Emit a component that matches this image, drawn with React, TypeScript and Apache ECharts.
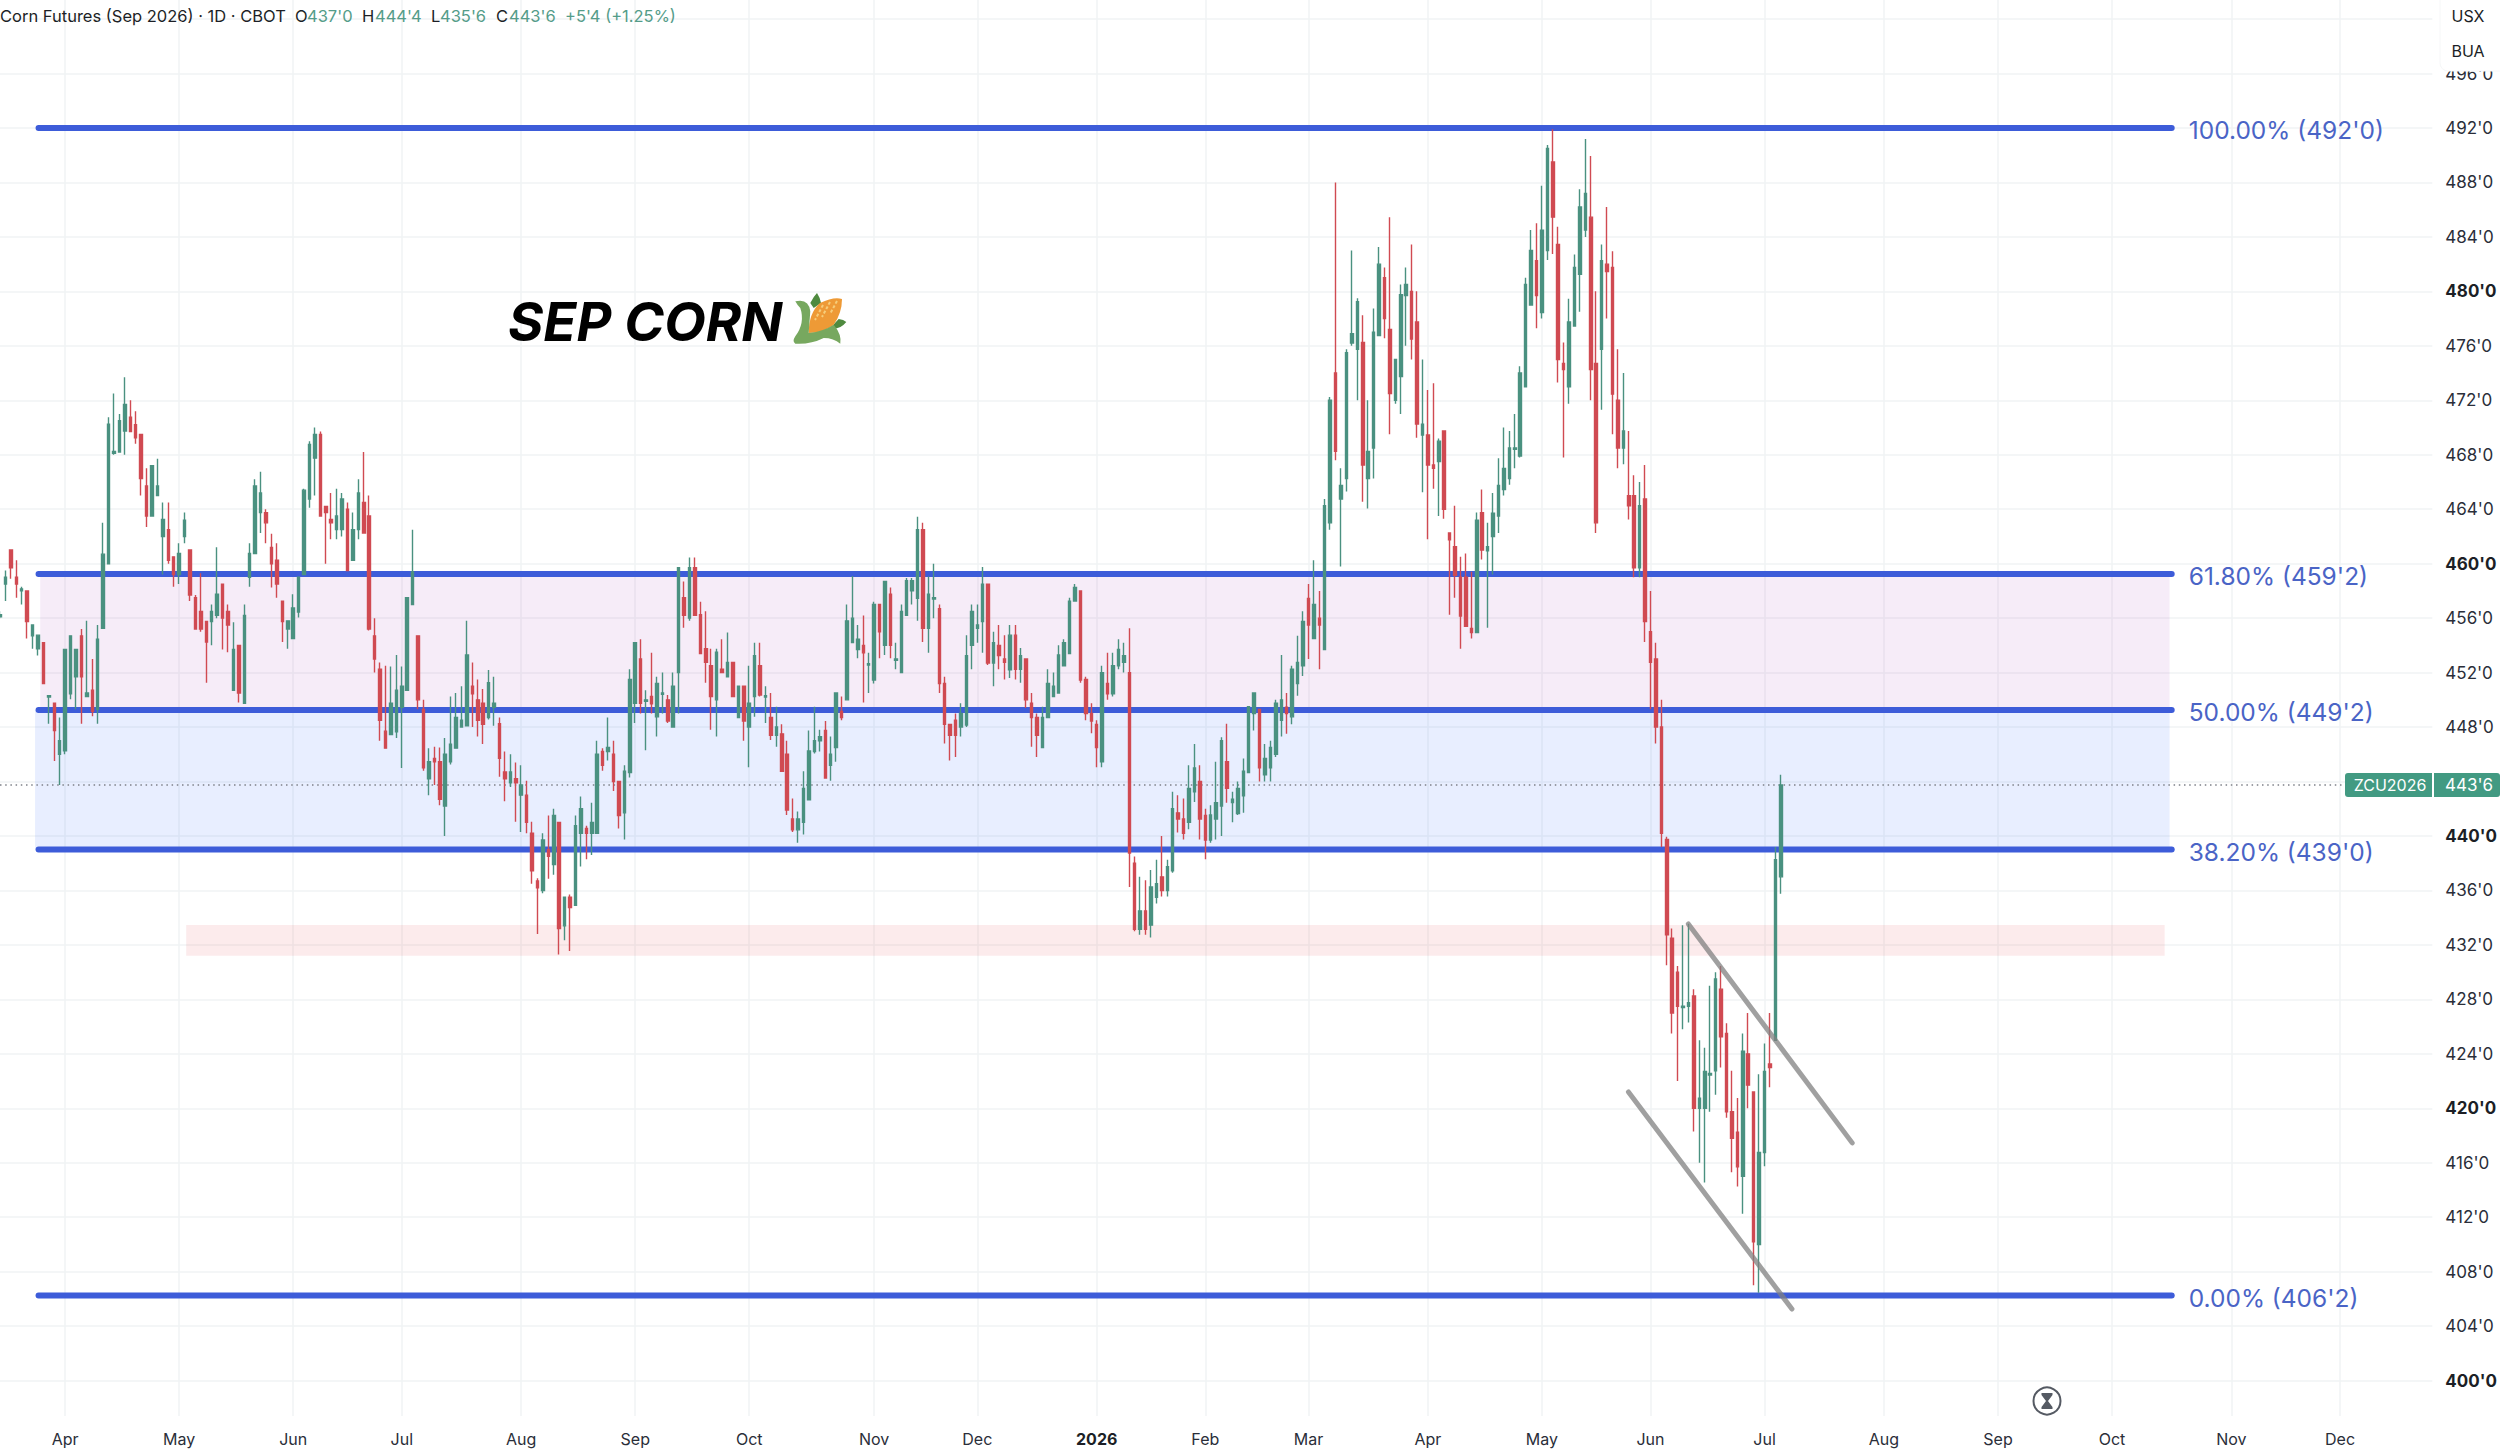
import React, { useEffect, useRef } from "react";
import * as echarts from "echarts";

// Each bar: [open, high, low, close], one row per session.
const barsSpring2025 = [
  [456.1,456.5,456,456.25],[458.5,459.5,457.25,459],[461,461,458.9,459.7],[459,460.25,457.5,458.5],[458,458.3,457,458.15],
  [458,458,454.5,455.75],[454.7,455.5,453.75,455.5],[453.75,454.75,453.25,454.75],[454.2,454.2,451.2,451.2],[450.2,450.3,448.25,450.3],
  [449.75,449.75,445.5,447.75],[446,448.7,443.75,447],[446.25,453.7,446,453.7],[450.45,454.7,450.05,454.7],[451.7,453.7,449.3,453.7],
  [454.7,455.2,448.25,451.7],[450.25,455.8,450.2,450.5],[450.7,453,448.8,449.15],[449.3,455.5,448.25,454.45],[455.25,463,455.25,460.7],
  [460,470.75,460,470.25],[468.1,472.5,468,468.25],[468.2,471,468.2,470.5],[469.75,473.7,468,471.7],[470.75,472,469.7,469.7],
  [470.2,471.2,468.8,469.25],[469.5,469.5,465,466.25],[465.7,467,462.7,463.5],[463.5,467.2,463.5,467.2],[465,467.7,465,465.7],
  [462,464.5,459.2,463.25],[462.5,464.5,460,460.25],[460.5,460.5,458.3,459.2],[459.2,461.5,458.5,460.75],[462,463.75,461.5,463.2],
  [461,461,457.25,457.7],[457.5,457.7,455.2,455.2],[456.5,459.3,455,455.2],[455.75,455.75,451.25,454.25],[455.75,457,454,456.5],
  [456.2,461.2,456,457.75],[458.5,458.5,453.7,456],[456.5,457,453.5,455.5],[450.7,455.7,450.7,453.7],[454,454,449.8,450.5],
  [449.75,457,449.75,456.2],[459,461.5,458.3,460.75],[460.75,466.2,460.75,465.7],[463.75,466.75,462.25,465.2],[463.75,464,461.5,463],
  [461.2,462.2,458.25,460],[460.25,461.5,457.5,458.5],[457.25,457.25,454.25,455.75],[455.2,455.8,453.75,455.8],[454.5,457.75,454.5,456.75],
];
const barsSummer2025 = [
  [456.45,459,456.05,459],[459.2,465.5,459.2,465.4],[464.75,469,464.1,468.75],[467.75,470,465,469.5],[469.5,469.7,463.5,463.5],
  [464.2,464.2,460,463.75],[463.25,465.2,461.8,463],[462.5,465.5,461.8,463.5],[462.5,465.2,462,464.75],[464,464.5,459.5,459.5],
  [460.25,463.75,460.25,462.5],[462.5,466.2,461.8,465.2],[464.5,468.2,462.25,462.25],[463.5,465,455.1,455.2],[454.7,456,452,453],
  [452.25,452.75,447,448.5],[447.7,452.5,446.45,446.45],[447.45,452.45,447.45,449.75],[447.65,453.3,447.2,450.7],[449.45,452.45,445,451],
  [450.7,457.5,450.7,457.5],[457,462.5,457,459.4],[454.7,454.7,449.3,450],[449.3,450,444.8,445],[444.2,446.45,443,445.45],
  [445.7,446.55,443.75,445.45],[445.45,446.5,442.25,442.7],[442.2,447.2,440,446],[445.45,450.25,445.25,446.75],[446.45,450.5,446.45,448.7],
  [448,451,448,448.5],[448.1,455.8,448.1,453.3],[451,452.75,448,450.45],[450,451.5,447.3,448.5],[449.75,450.8,446.75,448.2],
  [448.7,452.2,448.55,451.25],[449.45,451.7,448.1,449.75],[448.25,448.7,444.35,445.7],[444.7,446.2,442.55,444.2],[443.9,446,443.6,444.7],
  [444.2,445.4,441.05,443.9],[443,445.2,440.3,443.75],[443,444.05,440.2,441],[440.2,441.05,436.5,437.45],[436.7,436.9,432.8,436.2],
];
const barsAutumn2025 = [
  [436,440.2,435.8,439.7],[439,441.5,436.85,438.5],[437.9,442,437.15,441.5],[441,441,431.3,433.2],[433.4,435.5,432.35,435.5],
  [435.5,435.7,431.55,434.75],[434.9,441.5,434.9,440.75],[440.2,442.9,437.75,442],[440.55,440.75,438.3,440.2],[440.2,442.45,438.6,441],
  [440.2,447,440.2,446],[446.2,446.45,444.8,445.2],[446.2,448.7,445.55,446.5],[446,447,443.3,444],[444,444,440.55,441.5],
  [441.7,445.2,439.75,444.75],[444.65,452.25,444.3,451.5],[449.75,454.2,448.3,454.2],[453,454.45,449,449.75],[449.9,450.7,446.3,450],
  [450.25,453.45,449,449.7],[448.75,451.7,447.3,451.2],[450.4,452,449,450.5],[450,450.35,448.3,448.45],[448,452,448,451],
  [452,459.7,449,459.7],[457.5,458.7,455.3,456.2],[456,460.45,455.8,459.7],[459.7,460.45,456.2,456.2],[456.25,457.2,453.4,453.4],
  [453.75,456.5,451.25,452.75],[452.5,453.75,447.8,450.25],[450,453.75,447.3,453.5],[452.25,454.45,452,452],[451.7,454.95,451.7,452.75],
  [452.75,452.75,450.25,450.25],[448.7,451,448.7,451],[451,451,447,448.45],[448,452.5,445.05,449.75],[450.25,454.2,448.75,453.25],
  [452.5,454.2,450.25,450.35],[450.2,451,448.3,450.3],[448.7,450.5,447.05,447.4],[447.4,449.5,446.55,448],[447.5,448.2,444.75,444.75],
  [446,447,441.55,441.9],[441.25,442.75,440.3,440.45],[440.45,441.8,439.5,441.25],[441,444.75,440.1,443.5],[442.65,447.75,442.6,446.25],
  [446.2,449.5,446.05,447],[447,447.8,446.2,447.3],[447.75,448.45,444.25,444.25],[445.2,447.3,444.05,446],[446.5,450.5,445.45,450.5],
  [449.15,450.25,448.5,448.7],
];
const barsWinter2026 = [
  [450,457,450,455.8],[454.2,459.1,454.2,456],[453.7,455.5,453.05,454.45],[454,456.2,449.8,453.45],[452.55,453.45,450.5,452.65],
  [451.45,457.2,451.2,457],[457,457,453.05,455],[454,458.7,453.3,458.7],[457.75,458.25,453.05,454],[452.9,454.2,452.25,453],
  [452,457,452,456.5],[456.2,458.95,456.2,458.75],[458,458.95,457,458.75],[457.45,463.45,455.8,462.5],[462.5,463,454.25,455.25],
  [455.25,459.05,453.45,457.75],[457.4,460,456,457.5],[456.7,457,450.5,451.2],[451.2,451.7,446.8,448.2],[448.2,448.2,445.55,447.4],
  [448.5,449,445.8,447.4],[448,449.75,447.3,449],[448.15,454.75,448,453.25],[454,457,452.25,456.5],[455.25,457,454.2,455.5],
  [455.75,459.75,453.45,458.5],[458.5,458.5,452.55,452.7],[452.7,455,451,454.2],[454,455.5,452.25,453.25],[453,454.75,451.5,452.75],
  [452.2,455.5,451.6,454.75],[454.75,455.5,451.5,452.25],[452.25,453.8,451.25,453.25],[453,453,449.4,450],[449.75,450.5,446.55,448.7],
  [448.7,449,445.8,447.4],[446.5,449.5,446.5,448.7],[448.7,452.25,448.7,451.2],[450.25,452,450.25,451],[450.5,454,450.5,453.3],
  [452.5,454.45,452.5,454.2],[453.4,457.5,453.4,457.25],[457.25,458.5,457.25,458.25],[458,458,451.25,451.45],[451.5,451.7,448.5,449],
  [449,449.75,447.55,448.45],[448.2,448.5,445.05,446.5],[445.45,452.5,445.05,452],[451.2,453.45,450,450.45],[450.45,453.45,450.25,452.5],
  [452.5,454.45,452.25,453.7],[452.75,454.2,452,453.25],[452,455.25,436.25,438.75],[438,438.5,433,433.15],[433.15,437,432.75,434.5],
  [434.5,436.75,432.75,433.15],[433.45,437.5,432.55,436.25],[435.5,438.25,435.05,436.5],[437,440,435.55,436],[436,438.25,435.55,437.75],
  [437.45,443.25,437.3,442],[441.7,443,440.25,441.25],[441.25,442.75,439.75,440.2],[441,445.2,440.5,443.5],[443.25,446.75,442.5,445],
];
const barsFebApr2026 = [
  [444,445.2,439.75,441.25],[441.5,442,438.3,439.7],[439.7,442.25,439.5,441.55],[441.25,445.45,439.75,442.45],[442.2,447.25,440,447],
  [445.45,448.25,442.45,443.5],[442.45,443.25,441,442.7],[441.65,444,441.55,443.5],[442.95,445.7,441.7,444.75],[444.65,449.5,444.6,449.5],
  [449,450.5,447.75,450.5],[449.3,449.3,444,445],[444.5,446.75,444,445.7],[445,447,444,446.5],[446,450,445.8,449.75],
  [448.5,453.3,447.3,450],[449.45,450.5,447.5,449],[448.75,452.5,448.2,452.25],[451.2,454.7,450.3,452.75],[452.5,456.5,451.75,455.75],
  [457.45,458.5,453,455.5],[454.5,460.25,454.5,457],[456,458,452.25,455.5],[453.7,464.75,453.7,464.25],[463,472.25,462.5,472],
  [474,488,467.6,468.25],[464.75,467,459.8,465.75],[466.25,475.75,465.3,475.5],[476.2,483,476,476.9],[475.75,479.5,472,479.25],
  [476.25,478.25,464.55,467.25],[466.25,472,464.05,468.25],[468.5,478.75,466.25,477],[476.75,483.25,476.75,482],[481,481.75,476.55,478],
  [477.2,485.45,469.5,472.5],[472,475,471.75,475],[473.75,480.5,471,479.75],[479.7,481.75,476,480.5],[480,483.45,475,476.5],
  [477.75,480,469.25,470.25],[469.45,475,465.25,470.25],[469.45,472.75,461.8,467.25],[467.25,473.25,465.5,467],[467.5,469.2,463.5,469],
  [469.75,469.75,463.3,464],[462.25,462.25,456.25,461.75],[461.25,464.25,457.5,459.15],[459,460.5,453.75,456.15],[459,460.75,455.4,455.4],
  [455.25,459.4,454.5,454.95],[454.95,463.75,454.95,463.2],[463.75,465.45,460.3,461],[460.95,463,455.3,461.25],[462,465.2,459.2,463.7],
];
const barsMayJul2026 = [
  [463.5,467.75,462.25,465.75],[465.45,470,465,467],[466.25,469.75,465.8,468.5],[468.4,471,467,468.5],[467.9,474.5,467.8,474],
  [473,481,473,480.5],[479,484.5,479,483],[482.25,485,477.3,479.7],[478.45,487.75,478,484.5],[483,490.75,482.3,490.5],
  [489.5,491.9,482.75,485.45],[483.45,484.75,473.3,475],[474.7,476.25,467.8,474.25],[473,479.45,471.75,477.75],[477.45,482.7,477.45,481.75],
  [481.25,487.5,478.5,486.2],[484.5,491.2,484,487.2],[485.45,489.95,472,474.25],[474.7,480,462.25,463],[475.75,483.45,471.3,482.25],
  [482,486.2,478,481.45],[481.75,482.95,469.5,472.45],[472,475.75,467,468.5],[468.5,474,467.3,469.75],[465,469.75,463.25,464.25],
  [465,466.5,459,459.7],[459.7,466,459,464.25],[464.75,467.25,454.25,455.75],[455,458,449.3,452.75],[453,454.2,446.8,448],
  [448,450,439.2,440.2],[439.75,439.95,430.5,432.75],[432.5,433.2,425.5,427],[430,430.45,422,427.5],[427.4,433.45,425.8,427.5],
  [427.5,433.55,426.3,427.75],[428.25,428.75,418.3,420],[420,425,416,420.75],[420,424.45,414.55,422.7],[422.45,429,419.75,422.55],
  [422.75,430,421,429.5],[428.75,430.45,423,425.25],[425.5,426.25,419.3,419.75],[419.75,422.75,415.3,417.8],[418.25,420.75,414.25,415.7],
  [415,425.5,412.25,424.2],[424,427,420,421.7],[421.2,421.2,407,410.2],[410,422.5,406.45,416.75],[416.75,424.75,415.75,422.7],
  [423.25,427,421.55,423],[425,439.2,425,438.25],[437,444.5,435.75,443.75],
];

const bars = [...barsSpring2025, ...barsSummer2025, ...barsAutumn2025, ...barsWinter2026, ...barsFebApr2026, ...barsMayJul2026];

const SLOTS = 449;
const monthBars = [12, 33, 54, 74, 96, 117, 138, 161, 180, 202, 222, 241, 263, 284, 304, 325, 347, 368, 389, 411, 431];
const monthNames = ["Apr","May","Jun","Jul","Aug","Sep","Oct","Nov","Dec","2026","Feb","Mar","Apr","May","Jun","Jul","Aug","Sep","Oct","Nov","Dec"];

const priceTicks = [400,404,408,412,416,420,424,428,432,436,440,444,448,452,456,460,464,468,472,476,480,484,488,492,496,500];
const priceLabelTicks = [400,404,408,412,416,420,424,428,432,436,440,448,452,456,460,464,468,472,476,480,484,488,492,496];
const boldPrices = [400, 420, 440, 460, 480];

const fibPrices = [492, 459.25, 449.25, 439, 406.25];
const fibLabels = ["100.00% (492'0)", "61.80% (459'2)", "50.00% (449'2)", "38.20% (439'0)", "0.00% (406'2)"];
const fibSpan = [7.1, 400];
const lastPrice = 443.75;
const upperTrend = [[310.97, 433.54], [341.15, 417.46]];
const lowerTrend = [[299.94, 421.2], [330.05, 405.26]];
const supportZone = { from: 34.3, to: 398.7, top: 433.46, bottom: 431.2 };

const UP = "#4a9180";
const DOWN = "#d04a52";
const BLUE = "#3d5cd9";
const TEXT = "#1c1f26";
const GRID = "#f1f3f5";
const FONT = "Inter";
const VALUE_GREEN = "#549c89";

const headerParts = [
  { t: "Corn Futures (Sep 2026) · 1D · CBOT", x: 0, c: TEXT },
  { t: "O", x: 295, c: TEXT },
  { t: "437'0", x: 307, c: VALUE_GREEN },
  { t: "H", x: 362, c: TEXT },
  { t: "444'4", x: 375, c: VALUE_GREEN },
  { t: "L", x: 431, c: TEXT },
  { t: "435'6", x: 440, c: VALUE_GREEN },
  { t: "C", x: 496, c: TEXT },
  { t: "443'6", x: 509, c: VALUE_GREEN },
  { t: "+5'4 (+1.25%)", x: 565, c: VALUE_GREEN },
];

const cobPath = "M28 10 Q42 3.3 50 6 Q50 20 41.7 31.7 Q31.7 40 16.7 40 Q16.7 20 28 10 Z";
const huskPath = "M3.3 8.3 Q16.7 5 18.3 18.3 L16.7 40 Q31.7 38.3 41.7 31.7 Q50 41.7 48.3 50.7 Q41.7 45 31.7 45 Q18.3 51.7 3.3 50.7 Q0 48.3 3.3 43.3 Q13.3 30 8.3 15 Q5 11.7 3.3 8.3 Z";
const leafPath = "M18.3 10 Q21.7 3.3 25 0 Q28.3 5 29 10 L21.7 15 Z M38.3 35 L46.7 26 Q51.7 26.7 54.3 29 Q48.3 36.7 38.3 36 Z";
echarts.graphic.registerShape("corn-cob", (echarts.graphic as any).extendPath(cobPath, {}));
echarts.graphic.registerShape("corn-husk", (echarts.graphic as any).extendPath(huskPath, {}));
echarts.graphic.registerShape("corn-leaf", (echarts.graphic as any).extendPath(leafPath, {}));

export default function App() {
  const ref = useRef<HTMLDivElement>(null);
  useEffect(() => {
    document.body.style.margin = "0";
    document.body.style.overflow = "hidden";
    const chart = echarts.init(ref.current!, undefined, { renderer: "svg", width: 2500, height: 1456 });

    const monthAt: Record<number, string> = {};
    monthBars.forEach((b, i) => { monthAt[b] = monthNames[i]; });
    const categories = Array.from({ length: SLOTS }, (_, i) => String(i));
    const candleData = bars.map(([o, h, l, c]) => [o, c, l, h]);

    const yPx = 16;
    const header = headerParts.map((p) => ({
      type: "text", x: p.x, y: yPx, z: 100,
      style: { text: p.t, fill: p.c, fontFamily: FONT, fontSize: 16.5, textAlign: "left", textVerticalAlign: "middle" },
    }));

    const fibSeries = fibPrices.map((p, i) => ({
      type: "line", xAxisIndex: 1, yAxisIndex: 0, z: 2, silent: true, symbol: "none",
      lineStyle: { color: BLUE, width: 6, cap: "round" },
      endLabel: {
        show: true, distance: 17, offset: [0, 2], formatter: () => fibLabels[i],
        color: "#4a64c6", fontFamily: FONT, fontSize: 24.5,
      },
      data: [[fibSpan[0], p], [fibSpan[1], p]],
    }));

    const trend = (d: number[][]) => ({
      type: "line", xAxisIndex: 1, yAxisIndex: 0, z: 5, silent: true, symbol: "none",
      lineStyle: { color: "rgba(128,128,128,0.75)", width: 5, cap: "round" }, data: d,
    });

    chart.setOption({
      animation: false,
      backgroundColor: "#ffffff",
      grid: { left: -1.5, top: 0, width: 2434.5, height: 1416, containLabel: false },
      xAxis: [
        {
          type: "category", data: categories, boundaryGap: false,
          axisLine: { show: false }, axisTick: { show: false },
          axisLabel: {
            interval: (i: number) => monthAt[i] !== undefined,
            formatter: (_v: string, i: number) => (monthAt[i] === "2026" ? "{b|2026}" : monthAt[i] ?? ""),
            margin: 15, color: "#2a2e39", fontFamily: FONT, fontSize: 16,
            rich: { b: { fontWeight: 700, fontFamily: FONT, fontSize: 16, color: TEXT } },
          },
          splitLine: { show: true, interval: (i: number) => monthAt[i] !== undefined, lineStyle: { color: GRID, width: 1.5 } },
        },
        { type: "value", min: 0, max: SLOTS - 1, show: false, splitLine: { show: false } },
      ],
      yAxis: {
        type: "value", position: "right", min: 397.4, max: 501.4, scale: true,
        axisLine: { show: false },
        axisTick: { show: false, customValues: priceTicks },
        axisLabel: {
          customValues: priceLabelTicks, margin: 13, color: "#2a2e39", fontFamily: FONT, fontSize: 17,
          align: "left",
          formatter: (v: number) => (boldPrices.includes(Number(v)) ? `{b|${v}'0}` : `${v}'0`),
          rich: { b: { fontWeight: 700, fontFamily: FONT, fontSize: 17, color: TEXT } },
        },
        splitLine: { show: true, lineStyle: { color: GRID, width: 1.5 } },
      },
      series: [
        {
          type: "line", xAxisIndex: 1, yAxisIndex: 0, z: 1, silent: true, symbol: "none", data: [],
          markArea: {
            silent: true,
            data: [
              [{ coord: [7.4, fibPrices[1]], itemStyle: { color: "rgba(156,39,176,0.09)" } }, { coord: [399.6, fibPrices[2]] }],
              [{ coord: [6.46, fibPrices[2]], itemStyle: { color: "rgba(41,98,255,0.11)" } }, { coord: [399.6, fibPrices[3]] }],
              [{ coord: [supportZone.from, supportZone.top], itemStyle: { color: "rgba(225,60,70,0.1)" } }, { coord: [supportZone.to, supportZone.bottom] }],
            ],
          },
        },
        {
          type: "line", xAxisIndex: 1, yAxisIndex: 0, z: 1, silent: true, symbol: "none",
          lineStyle: { color: "#7d8088", width: 1.5, type: [1.5, 3.7] },
          data: [[0, lastPrice], [432.2, lastPrice]],
        },
        ...fibSeries,
        {
          type: "candlestick", xAxisIndex: 0, yAxisIndex: 0, z: 3, silent: true, barWidth: 3, data: candleData,
          itemStyle: { color: UP, color0: DOWN, borderColor: UP, borderColor0: DOWN, borderWidth: 1.4 },
        },
        trend(upperTrend),
        trend(lowerTrend),
      ],
      graphic: { elements: [
        ...header,
        { type: "rect", z: 100, shape: { x: 2440, y: -10, width: 70, height: 81, r: 8 }, style: { fill: "#ffffff", stroke: "#f6f7f8", lineWidth: 1 } },
        { type: "text", z: 101, x: 2468, y: 16, style: { text: "USX", fill: TEXT, fontFamily: FONT, fontSize: 16, textAlign: "center", textVerticalAlign: "middle" } },
        { type: "text", z: 101, x: 2468, y: 51, style: { text: "BUA", fill: TEXT, fontFamily: FONT, fontSize: 16, textAlign: "center", textVerticalAlign: "middle" } },
        { type: "rect", z: 100, shape: { x: 2345, y: 773, width: 87, height: 24, r: [3, 0, 0, 3] }, style: { fill: "#429a82" } },
        { type: "rect", z: 100, shape: { x: 2434, y: 773, width: 66, height: 24, r: [0, 3, 3, 0] }, style: { fill: "#429a82" } },
        { type: "text", z: 101, x: 2390, y: 785, style: { text: "ZCU2026", fill: "#ffffff", fontFamily: FONT, fontSize: 16, textAlign: "center", textVerticalAlign: "middle" } },
        { type: "text", z: 101, x: 2469, y: 785, style: { text: "443'6", fill: "#ffffff", fontFamily: FONT, fontSize: 17, textAlign: "center", textVerticalAlign: "middle" } },
        { type: "text", z: 100, x: 508, y: 321, style: { text: "SEP CORN", fill: "#000000", fontFamily: FONT, fontSize: 54, fontWeight: 700, fontStyle: "italic", textAlign: "left", textVerticalAlign: "middle" } },
        {
          type: "group", x: 792, y: 293, z: 100,
          children: [
            { type: "corn-leaf", z: 100, style: { fill: "#4f8a3f" } },
            { type: "corn-cob", z: 101, style: { fill: "#ee9a36" } },
            { type: "line", z: 102, shape: { x1: 31, y1: 12, x2: 23, y2: 27 }, style: { stroke: "#f6cd7a", lineWidth: 2, lineDash: [3, 2] } },
            { type: "line", z: 102, shape: { x1: 38, y1: 9, x2: 30, y2: 24 }, style: { stroke: "#f6cd7a", lineWidth: 2, lineDash: [3, 2] } },
            { type: "line", z: 102, shape: { x1: 45, y1: 8, x2: 38, y2: 21 }, style: { stroke: "#f6cd7a", lineWidth: 2, lineDash: [3, 2] } },
            { type: "corn-husk", z: 103, style: { fill: "#77a85f" } },
          ],
        },
        {
          type: "group", x: 2047, y: 1401, z: 100,
          children: [
            { type: "circle", z: 100, shape: { cx: 0, cy: 0, r: 13.5 }, style: { fill: "#ffffff", stroke: "#555a63", lineWidth: 2 } },
            { type: "polygon", z: 101, shape: { points: [[-5.5, -8], [5.5, -8], [5.5, -6], [1, 0], [5.5, 6], [5.5, 8], [-5.5, 8], [-5.5, 6], [-1, 0], [-5.5, -6]] }, style: { fill: "#555a63" } },
          ],
        },
      ] },
    });
    return () => chart.dispose();
  }, []);
  return <div ref={ref} style={{ position: "fixed", left: 0, top: 0, width: 2500, height: 1456 }} />;
}
